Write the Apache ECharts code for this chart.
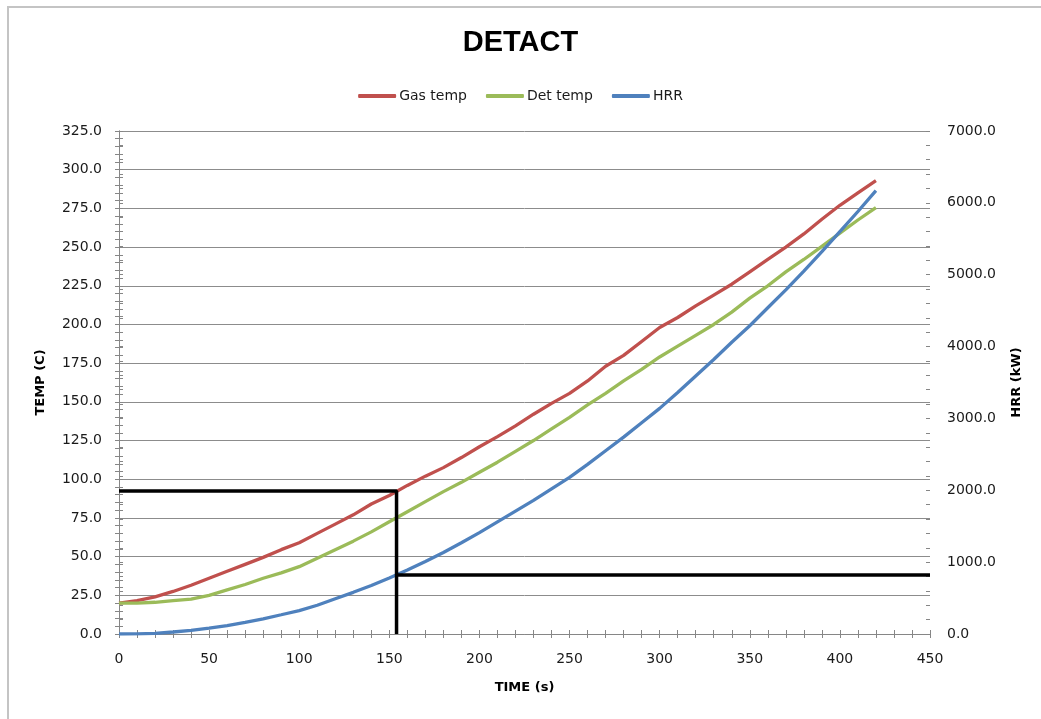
<!DOCTYPE html>
<html>
<head>
<meta charset="utf-8">
<script src="https://cdn.jsdelivr.net/npm/echarts@6/dist/echarts.min.js"></script>
<style>
html,body{margin:0;padding:0;background:#fff;}
#chart{width:1041px;height:719px;}
</style>
</head>
<body>
<div id="chart"></div>
<script>
// ---- data ----
const titleText = 'DETACT';
const seriesNames = ['Gas temp', 'Det temp', 'HRR'];
const time = [0,10,20,30,40,50,60,70,80,90,100,110,120,130,140,150,160,170,180,190,200,
              210,220,230,240,250,260,270,280,290,300,310,320,330,340,350,360,370,380,390,400,410,420];
const gasTemp = [20,21.5,24,27.5,31.5,36,40.5,45,49.5,54.5,59,65,71,77,84,89.5,96,102,107.5,114,121,
                 127.5,134.5,142,149,155.5,163.5,173,180,189,198,204.5,212,219,226,234,242,250,258.5,268,277,285,293];
const detTemp = [20,20,20.5,21.5,22.5,25,28.5,32,36,39.5,43.5,49,54.5,60,66,72.5,79,85.5,92,98,104.5,
                 111,118,125,132.5,140,148,155.5,163.5,171,179,186,193,200,208,217,225,234,242,250.5,259,267.5,275.5];
const hrr = [0,2,10,28,50,82,118,162,212,268,325,400,490,580,675,780,890,1010,1135,1270,1410,
             1560,1710,1860,2020,2180,2360,2550,2740,2940,3140,3360,3590,3820,4060,4290,4540,4790,5050,5320,5600,5880,6170];
// detection marker lines
const detectTime = 154;
const detectGasTemp = 92.4;
const detectHRR = 820;
const xMax = 450;
const tempTicks = {min: 0, max: 325, interval: 25};
const hrrTicks = {min: 0, max: 7000, interval: 1000};
const xTicks = {min: 0, max: 450, interval: 50};

const pairs = (xs, ys) => xs.map((x, i) => [x, ys[i]]);
const refTemp = [[0, detectGasTemp], [detectTime, detectGasTemp], [detectTime, 0]];
const refHRR = [[detectTime, detectHRR], [xMax, detectHRR]];

const axisGray = '#868686';
const labelFont = {fontFamily: 'DejaVu Sans', fontSize: 14, color: '#1a1a1a'};
const nameFont = {fontFamily: 'DejaVu Sans', fontSize: 13, fontWeight: 'bold', color: '#000'};

function xAxisCfg(primary) {
  return {
    type: 'value', position: 'bottom', min: xTicks.min, max: xTicks.max, interval: xTicks.interval,
    name: primary ? 'TIME (s)' : '', nameLocation: 'middle', nameGap: 47, nameTextStyle: nameFont,
    axisLine: {show: primary, lineStyle: {color: axisGray, width: 1}},
    axisTick: {show: true, inside: !primary, length: 4, lineStyle: {color: axisGray}},
    minorTick: {show: true, splitNumber: 5, length: 4, lineStyle: {color: axisGray}},
    axisLabel: Object.assign({show: primary, margin: 18}, labelFont),
    splitLine: {show: false}
  };
}
function yAxisCfg(pos, primary, t, name, gap, grid) {
  return {
    type: 'value', position: pos, min: t.min, max: t.max, interval: t.interval,
    name: primary ? name : '', nameLocation: 'middle', nameGap: gap, nameTextStyle: nameFont,
    axisLine: {show: primary, lineStyle: {color: axisGray, width: 1}},
    axisTick: {show: true, inside: !primary, length: 4, lineStyle: {color: axisGray}},
    minorTick: {show: true, splitNumber: 5, length: 4, lineStyle: {color: axisGray}},
    axisLabel: Object.assign({show: primary, margin: 17, formatter: v => v.toFixed(1)}, labelFont),
    splitLine: {show: grid && primary, lineStyle: {color: '#8c8c8c', width: 1}}
  };
}

const chart = echarts.init(document.getElementById('chart'), null, {renderer: 'canvas'});
chart.setOption({
  backgroundColor: '#fff',
  animation: false,
  graphic: [{
    type: 'rect', silent: true, z: -10,
    shape: {x: 8, y: 7, width: 1200, height: 900},
    style: {fill: 'none', stroke: '#c4c4c4', lineWidth: 2}
  }],
  title: {
    text: titleText, left: 'center', top: 23,
    textStyle: {fontFamily: 'Liberation Sans', fontSize: 29, fontWeight: 'bold', color: '#000'}
  },
  legend: {
    data: seriesNames, top: 84, left: 'center', itemGap: 19, itemWidth: 38, itemHeight: 4,
    icon: 'roundRect', textStyle: {fontFamily: 'DejaVu Sans', fontSize: 14, color: '#1a1a1a', padding: [0, 0, 0, -2]}
  },
  grid: {left: 119, right: 111, top: 131, bottom: 85, containLabel: false},
  xAxis: [xAxisCfg(true), xAxisCfg(false)],
  yAxis: [
    yAxisCfg('left', true, tempTicks, 'TEMP (C)', 72, true),
    yAxisCfg('right', true, hrrTicks, 'HRR (kW)', 80, false),
    yAxisCfg('left', false, tempTicks, '', 0, false),
    yAxisCfg('right', false, hrrTicks, '', 0, false)
  ],
  series: [
    {name: seriesNames[0], type: 'line', yAxisIndex: 0, data: pairs(time, gasTemp), symbol: 'none',
     lineStyle: {color: '#C0504D', width: 3.3}, itemStyle: {color: '#C0504D'}},
    {name: seriesNames[1], type: 'line', yAxisIndex: 0, data: pairs(time, detTemp), symbol: 'none',
     lineStyle: {color: '#9BBB59', width: 3.3}, itemStyle: {color: '#9BBB59'}},
    {name: seriesNames[2], type: 'line', yAxisIndex: 1, data: pairs(time, hrr), symbol: 'none',
     lineStyle: {color: '#4F81BD', width: 3.3}, itemStyle: {color: '#4F81BD'}},
    {name: 'refTemp', type: 'line', yAxisIndex: 0, data: refTemp, symbol: 'none', z: 5,
     lineStyle: {color: '#000', width: 3.5}},
    {name: 'refHRR', type: 'line', yAxisIndex: 1, data: refHRR, symbol: 'none', z: 5,
     lineStyle: {color: '#000', width: 3.5}}
  ]
});
</script>
</body>
</html>
